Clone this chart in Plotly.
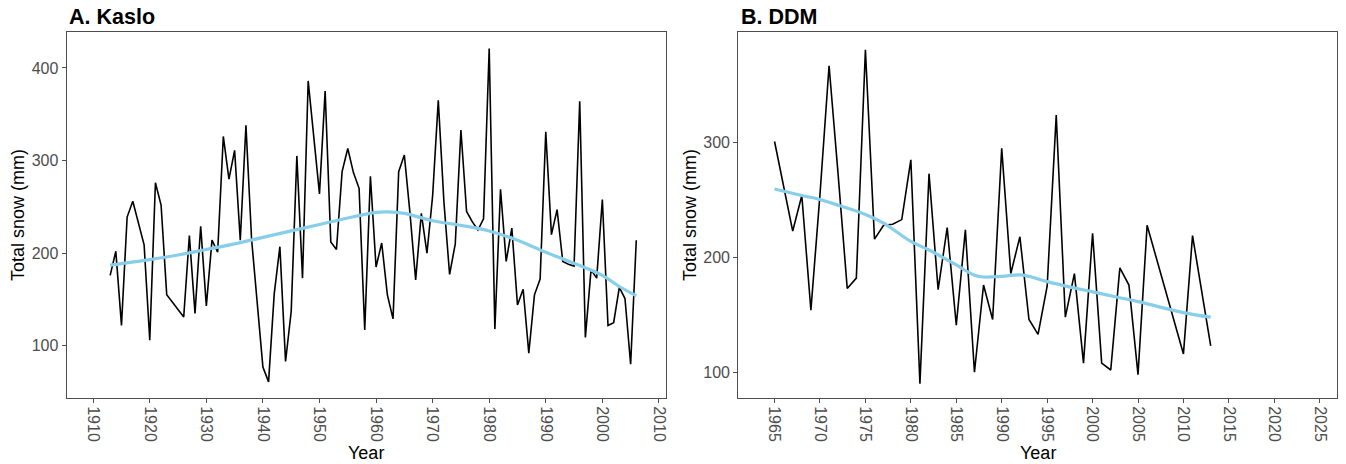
import plotly.graph_objects as go

# ---------------- data ----------------
kaslo_years = [1913, 1914, 1915, 1916, 1917, 1918, 1919, 1920, 1921, 1922, 1923, 1926, 1927, 1928,
               1929, 1930, 1931, 1932, 1933, 1934, 1935, 1936, 1937, 1938, 1939, 1940, 1941, 1942,
               1943, 1944, 1945, 1946, 1947, 1948, 1950, 1951, 1952, 1953, 1954, 1955, 1956, 1957,
               1958, 1959, 1960, 1961, 1962, 1963, 1964, 1965, 1966, 1967, 1968, 1969, 1970, 1971,
               1972, 1973, 1974, 1975, 1976, 1977, 1978, 1979, 1980, 1981, 1982, 1983, 1984, 1985,
               1986, 1987, 1988, 1989, 1990, 1991, 1992, 1993, 1994, 1995, 1996, 1997, 1998, 1999,
               2000, 2001, 2002, 2003, 2004, 2005, 2006]
kaslo_snow = [176, 202, 122, 239, 256, 233, 209, 106, 276, 252, 155, 131, 219, 135,
              229, 143, 214, 201, 326, 280, 311, 214, 338, 215, 145, 77, 61, 156,
              207, 83, 137, 305, 173, 386, 264, 375, 212, 204, 288, 313, 287, 270,
              117, 283, 185, 211, 155, 129, 288, 306, 243, 171, 243, 200, 262, 365,
              255, 177, 210, 333, 245, 234, 225, 237, 421, 118, 269, 191, 227, 144,
              161, 92, 155, 172, 331, 220, 247, 191, 188, 186, 364, 109, 182, 173,
              258, 122, 125, 163, 151, 80, 214]

kaslo_trend_years = [1913, 1920, 1925, 1930, 1935, 1940, 1945, 1950, 1955, 1960, 1962, 1965,
                     1970, 1975, 1980, 1985, 1990, 1995, 2000, 2003, 2006]
kaslo_trend = [187, 193, 198, 204, 210, 217, 224, 231, 238, 244, 244.5, 243,
               235, 230, 224, 214, 201, 189, 176, 164, 154]

ddm_years = [1965, 1966, 1967, 1968, 1969, 1970, 1971, 1972, 1973, 1974, 1975, 1976, 1977, 1978,
             1979, 1980, 1981, 1982, 1983, 1984, 1985, 1986, 1987, 1988, 1989, 1990, 1991, 1992,
             1993, 1994, 1995, 1996, 1997, 1998, 1999, 2000, 2001, 2002, 2003, 2004, 2005, 2006,
             2010, 2011, 2013]
ddm_snow = [301, 262, 223, 254, 154, 255, 367, 272, 173, 182, 381, 216, 228, 229,
            233, 285, 90, 273, 172, 226, 141, 224, 100, 176, 146, 295, 186, 218,
            146, 133, 175, 324, 148, 186, 108, 221, 108, 102, 191, 176, 98, 228,
            116, 219, 123]

ddm_trend_years = [1965, 1968, 1970, 1972, 1975, 1977, 1980, 1982, 1985, 1987, 1988, 1990,
                   1992, 1993, 1995, 2000, 2005, 2010, 2013]
ddm_trend = [259.6, 254, 250.5, 245.5, 237.5, 230, 214, 206.5, 193.5, 184.5, 183, 183.5,
             184.8, 183.5, 179, 170, 161.5, 152, 148]

kaslo_xticks = [1910, 1920, 1930, 1940, 1950, 1960, 1970, 1980, 1990, 2000, 2010]
kaslo_yticks = [100, 200, 300, 400]
ddm_xticks = [1965, 1970, 1975, 1980, 1985, 1990, 1995, 2000, 2005, 2010, 2015, 2020, 2025]
ddm_yticks = [100, 200, 300]

panel_titles = ["A. Kaslo", "B. DDM"]
x_title = "Year"
y_title = "Total snow (mm)"

# ---------------- figure ----------------
W, H = 1346, 464
FONT = "Liberation Sans, Arial, Helvetica, sans-serif"
LINE_BLUE = "#87CEEB"

fig = go.Figure()
fig.add_trace(go.Scatter(x=kaslo_years, y=kaslo_snow, mode="lines",
                         line=dict(color="black", width=1.6), xaxis="x", yaxis="y",
                         showlegend=False))
fig.add_trace(go.Scatter(x=kaslo_trend_years, y=kaslo_trend, mode="lines",
                         line=dict(color=LINE_BLUE, width=3.2, shape="spline", smoothing=1.0),
                         xaxis="x", yaxis="y", showlegend=False))
fig.add_trace(go.Scatter(x=ddm_years, y=ddm_snow, mode="lines",
                         line=dict(color="black", width=1.6), xaxis="x2", yaxis="y2",
                         showlegend=False))
fig.add_trace(go.Scatter(x=ddm_trend_years, y=ddm_trend, mode="lines",
                         line=dict(color=LINE_BLUE, width=3.2, shape="spline", smoothing=1.0),
                         xaxis="x2", yaxis="y2", showlegend=False))

# pixel layout
L1, R1 = 66.7, 666.7
L2, R2 = 739.3, 1339.0
TOP, BOT = 32.0, 398.0

def px_x(p):
    return p / W

def px_y(p):
    return 1 - p / H

axis_common = dict(showline=True, mirror=True, linecolor="#4d4d4d", linewidth=1,
                   ticks="outside", ticklen=4, tickwidth=1, tickcolor="#4d4d4d",
                   showgrid=False, zeroline=False,
                   tickfont=dict(family=FONT, size=16, color="#4D4D4D"))

fig.update_layout(
    width=W, height=H,
    margin=dict(l=0, r=0, t=0, b=0),
    paper_bgcolor="white", plot_bgcolor="white",
    font=dict(family=FONT),
    xaxis=dict(domain=[px_x(L1), px_x(R1)], range=[1905.3, 2011.2], anchor="y",
               tickvals=kaslo_xticks, tickangle=90, **axis_common),
    yaxis=dict(domain=[px_y(BOT), px_y(TOP)], range=[43.6, 438.8], anchor="x",
               tickvals=kaslo_yticks, **axis_common),
    xaxis2=dict(domain=[px_x(L2), px_x(R2)], range=[1961.0, 2026.9], anchor="y2",
                tickvals=ddm_xticks, tickangle=90, **axis_common),
    yaxis2=dict(domain=[px_y(BOT), px_y(TOP)], range=[77.6, 396.4], anchor="x2",
                tickvals=ddm_yticks, **axis_common),
)

annotations = []
for title, left in zip(panel_titles, [L1, L2]):
    annotations.append(dict(text="<b>%s</b>" % title, xref="paper", yref="paper",
                            x=px_x(left + 0.5), y=px_y(17), xanchor="left", yanchor="middle",
                            showarrow=False, font=dict(family=FONT, size=21.5, color="black")))
for left, right, ycx in [(L1, R1, 18), (L2, R2, 691)]:
    annotations.append(dict(text=x_title, xref="paper", yref="paper",
                            x=px_x((left + right) / 2), y=px_y(453), xanchor="center",
                            yanchor="middle", showarrow=False,
                            font=dict(family=FONT, size=18, color="black")))
    annotations.append(dict(text=y_title, xref="paper", yref="paper", textangle=-90,
                            x=px_x(ycx), y=px_y((TOP + BOT) / 2), xanchor="center",
                            yanchor="middle", showarrow=False,
                            font=dict(family=FONT, size=18, color="black")))
fig.update_layout(annotations=annotations)

fig.write_html("out.html")
